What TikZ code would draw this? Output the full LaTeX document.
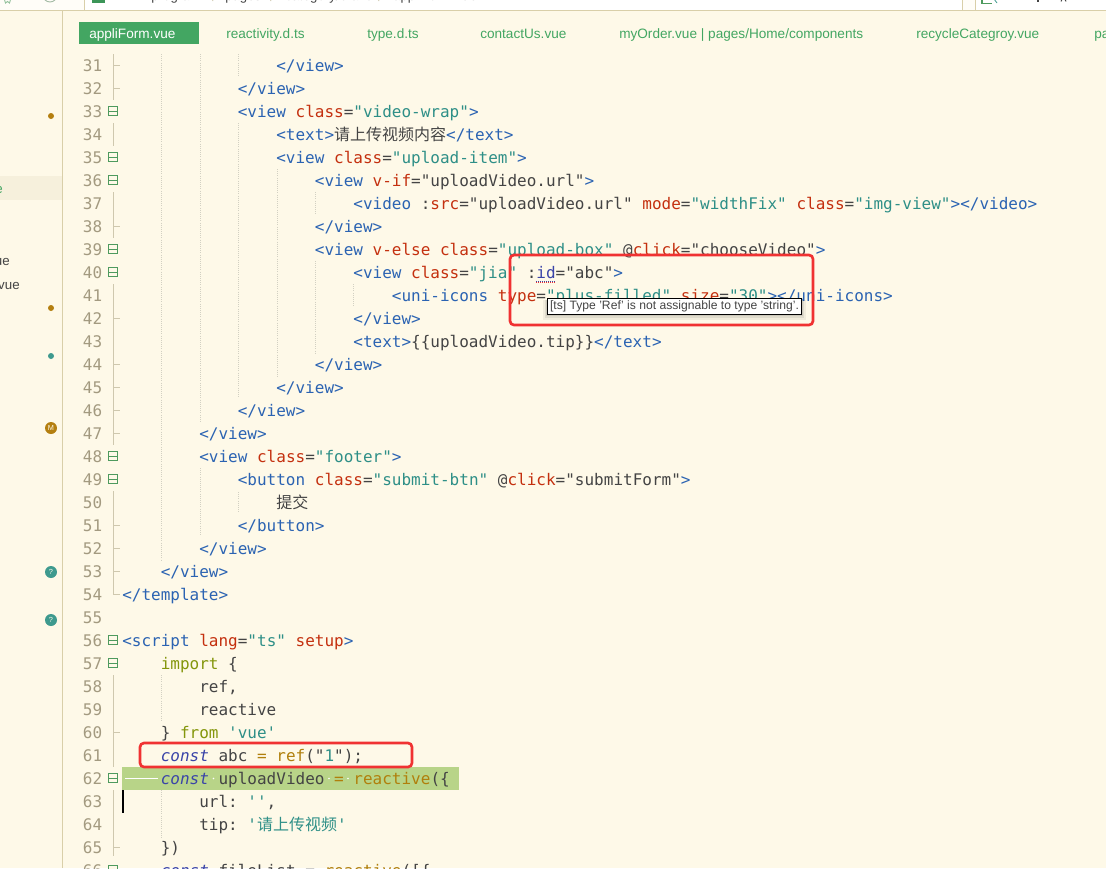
\documentclass[tikz,border=0pt]{standalone}
\usepackage{fontspec}
\setmainfont{Liberation Sans}
\setmonofont{DejaVu Sans Mono}
\newfontfamily\cjk{Noto Sans CJK SC}
\definecolor{bgc}{HTML}{FEF9E8}
\definecolor{topc}{HTML}{FFFDF8}
\definecolor{hlc}{HTML}{F6F0DC}
\definecolor{barc}{HTML}{D9CFA9}
\definecolor{tabc}{HTML}{43A662}
\definecolor{tagc}{HTML}{2B63B2}
\definecolor{attc}{HTML}{C4300F}
\definecolor{strc}{HTML}{2E8F87}
\definecolor{txtc}{HTML}{444444}
\definecolor{kwc}{HTML}{84960C}
\definecolor{conc}{HTML}{3A44A8}
\definecolor{fnc}{HTML}{B07F0C}
\definecolor{numc}{HTML}{A39A80}
\definecolor{gutc}{HTML}{CFC8AE}
\definecolor{foldc}{HTML}{4E9A5E}
\definecolor{guidec}{HTML}{D2D0C2}
\definecolor{redc}{HTML}{F03232}
\definecolor{linec}{HTML}{B8D488}
\definecolor{orangec}{HTML}{B47F10}
\definecolor{tealc}{HTML}{3E9A8E}
\newcommand{\ctag}[1]{\textcolor{tagc}{#1}}
\newcommand{\cattr}[1]{\textcolor{attc}{#1}}
\newcommand{\cstr}[1]{\textcolor{strc}{#1}}
\newcommand{\ckw}[1]{\textcolor{kwc}{#1}}
\newcommand{\cconst}{\textcolor{conc}{\itshape const}}
\newcommand{\cfun}[1]{\textcolor{fnc}{#1}}
\newcommand{\codeline}[3]{%
  \node[codetxt] (C#1) at ({122+#2*9.63},{71+(#1-31)*23}) {#3};}
\newcommand{\tablabel}[2]{\node[tabtxt] (T#1) at (#1,38) {\textcolor{tabc}{#2}};}
\tikzset{
  codetxt/.style={anchor=base west,inner sep=0pt,font=\fontsize{12pt}{14pt}\ttfamily,text=txtc},
  numtxt/.style={anchor=base east,inner sep=0pt,font=\fontsize{12pt}{14pt}\ttfamily,text=numc},
  tabtxt/.style={anchor=base west,inner sep=0pt,font=\fontsize{10.2pt}{12pt}\selectfont},
  crumbtxt/.style={anchor=base west,inner sep=0pt,text=txtc,font=\fontsize{9.9pt}{12pt}\selectfont},
  guide/.style={guidec,line width=0.6pt,densely dotted},
  gut/.style={gutc,line width=0.6pt},
  foldbox/.style={draw=foldc,line width=0.6pt,fill=bgc,minimum size=7pt,inner sep=0pt},
  redbox/.style={draw=redc,line width=2pt,rounded corners=3pt},
  side/.style={anchor=base east,inner sep=0pt,font=\fontsize{10pt}{12pt}\selectfont},
  badge/.style={circle,inner sep=0pt,minimum size=9pt,text=bgc,font=\fontsize{5.5pt}{6pt}\selectfont},
}
\begin{document}
\begin{tikzpicture}[x=0.75pt,y=-0.75pt]
\useasboundingbox (0,0) rectangle (1106,868);
\clip (0,0) rectangle (1106,868);
\fill[bgc] (0,0) rectangle (1106,868);
% top bar
\fill[topc] (0,-2) rectangle (1106,10);
\fill[white] (84,-2) rectangle (962,9.5);
\fill[white] (975,-2) rectangle (1106,9.5);
\draw[barc,line width=1pt] (0,10.2) -- (1106,10.2);
\draw[barc,line width=0.7pt] (84.5,-2) -- (84.5,10) (962.5,-2) -- (962.5,10) (975.5,-2) -- (975.5,10);
\fill[tabc!90!black] (92,-2) rectangle (105,2.5);
\node[crumbtxt] (cr1) at (127,0.5) {miniprogram};
\node[crumbtxt] (cr2) at (225,0.5) {pages};
\node[crumbtxt] (cr3) at (285,0.5) {category/brand};
\node[crumbtxt] (cr4) at (393,0.5) {appliForm.vue};
\draw[gutc,line width=0.6pt] (212,-1) -- (213,1) (270,-1) -- (271,1) (378,-1) -- (379,1);
\draw[gutc!70!tealc,line width=0.7pt] (50,-5) circle (7);
\draw[foldc!60!white,line width=0.7pt] (4,-2) -- (5.5,3) -- (7.5,1.5) -- (9.5,3) -- (11,-2);
\draw[foldc,line width=0.8pt] (982,-2) -- (982,3.5) -- (992,3.5);
\draw[tealc,line width=0.6pt] (994,-1) -- (997,3);
\fill[txtc] (1037,-1) rectangle (1038.5,2);
\draw[txtc,line width=0.7pt] (1061,1.5) arc (180:360:2.5);
% sidebar
\fill[hlc] (0,176) rectangle (62,200);
\draw[barc,line width=0.8pt] (62.5,10) -- (62.5,868);
\node[side,text=tabc] (s1) at (3,193) {vue};
\node[side,text=txtc] (s2) at (10,265) {vue};
\node[side,text=txtc] (s3) at (20,289) {vue};
\fill[orangec] (51,116) circle (3) (51,308) circle (3);
\fill[tealc] (51,356) circle (3);
\node[badge,fill=orangec] (bM) at (51,428) {M};
\node[badge,fill=tealc] (bQ1) at (51,572) {?};
\node[badge,fill=tealc] (bQ2) at (51,620) {?};
% tabs
\fill[tabc] (79,22) rectangle (199,44);
\node[tabtxt,text=white] (tab0) at (89,38) {appliForm.vue};
\tablabel{226}{reactivity.d.ts}
\tablabel{367}{type.d.ts}
\tablabel{480}{contactUs.vue}
\tablabel{619}{myOrder.vue | pages/Home/components}
\tablabel{916}{recycleCategroy.vue}
\tablabel{1094}{pages}
% line numbers
\foreach \n in {31,...,66} \node[numtxt] (N\n) at (102.5,{71+(\n-31)*23}) {\n};
% gutter lines
\draw[gut] (113,54) -- (113,100) (113,123) -- (113,146) (113,192) -- (113,238) (113,284) -- (113,445);
\draw[gut] (113,491) -- (113,594) -- (120,594);
\draw[gut] (113,675) -- (113,767) (113,790) -- (113,856);
\foreach \n in {31,32,38,42,44,45,46,47,51,52,53,60,65}
  \draw[gut] (113,{65+(\n-31)*23}) -- (120,{65+(\n-31)*23});
% indent guides
\draw[guide] (161,54) -- (161,560) (200,54) -- (200,422) (200,468) -- (200,535)
  (238,54) -- (238,77) (238,123) -- (238,397) (238,492) -- (238,513)
  (277,169) -- (277,376) (315,192) -- (315,215) (315,261) -- (315,353)
  (353,284) -- (353,307) (161,675) -- (161,720) (161,790) -- (161,837);
% current line
\fill[linec] (122,767) rectangle (459,790);
\draw[white,line width=0.7pt] (125,778.5) -- (158,778.5);
\foreach \x in {213.5,329,348} \fill[white] (\x,778.5) circle (0.9);
\fill[black] (122,790) rectangle (124,813);
% fold boxes
\foreach \n in {33,35,36,39,40,48,49,56,57,62,66}
  \node[foldbox] (F\n) at (113,{65+(\n-31)*23}) {};
\foreach \n in {33,35,36,39,40,48,49,56,57,62,66}
  \draw[foldc,line width=0.6pt] ([xshift=-2.7]F\n.center) -- ([xshift=2.7]F\n.center);
% code
\codeline{31}{16}{\ctag{</view>}}
\codeline{32}{12}{\ctag{</view>}}
\codeline{33}{12}{\ctag{<view} \cattr{class}=\cstr{"video-wrap"}\ctag{>}}
\codeline{34}{16}{\ctag{<text>}{\cjk 请上传视频内容}\ctag{</text>}}
\codeline{35}{16}{\ctag{<view} \cattr{class}=\cstr{"upload-item"}\ctag{>}}
\codeline{36}{20}{\ctag{<view} \cattr{v-if}="uploadVideo.url"\ctag{>}}
\codeline{37}{24}{\ctag{<video} :\cattr{src}="uploadVideo.url" \cattr{mode}=\cstr{"widthFix"} \cattr{class}=\cstr{"img-view"}\ctag{></video>}}
\codeline{38}{20}{\ctag{</view>}}
\codeline{39}{20}{\ctag{<view} \cattr{v-else} \cattr{class}=\cstr{"upload-box"} @\cattr{click}="chooseVideo"\ctag{>}}
\codeline{40}{24}{\ctag{<view} \cattr{class}=\cstr{"jia"} :\textcolor{conc}{id}="abc"\ctag{>}}
\codeline{41}{28}{\ctag{<uni-icons} \cattr{type}=\cstr{"plus-filled"} \cattr{size}=\cstr{"30"}\ctag{></uni-icons>}}
\codeline{42}{24}{\ctag{</view>}}
\codeline{43}{24}{\ctag{<text>}\{\{uploadVideo.tip\}\}\ctag{</text>}}
\codeline{44}{20}{\ctag{</view>}}
\codeline{45}{16}{\ctag{</view>}}
\codeline{46}{12}{\ctag{</view>}}
\codeline{47}{8}{\ctag{</view>}}
\codeline{48}{8}{\ctag{<view} \cattr{class}=\cstr{"footer"}\ctag{>}}
\codeline{49}{12}{\ctag{<button} \cattr{class}=\cstr{"submit-btn"} @\cattr{click}="submitForm"\ctag{>}}
\codeline{50}{16}{{\cjk 提交}}
\codeline{51}{12}{\ctag{</button>}}
\codeline{52}{8}{\ctag{</view>}}
\codeline{53}{4}{\ctag{</view>}}
\codeline{54}{0}{\ctag{</template>}}
\codeline{56}{0}{\ctag{<script} \cattr{lang}=\cstr{"ts"} \cattr{setup}\ctag{>}}
\codeline{57}{4}{\ckw{import} \{}
\codeline{58}{8}{ref,}
\codeline{59}{8}{reactive}
\codeline{60}{4}{\} \ckw{from} \cstr{'vue'}}
\codeline{61}{4}{\cconst{} abc \cfun{=} \cfun{ref}("\cstr{1}");}
\codeline{62}{4}{\cconst{} uploadVideo \cfun{=} \cfun{reactive}(\{}
\codeline{63}{8}{url: \cstr{''},}
\codeline{64}{8}{tip: \cstr{'{\cjk 请上传视频}'}}
\codeline{65}{4}{\})}
\codeline{66}{4}{\cconst{} fileList = \cfun{reactive}([\{}
% squiggle
\draw[conc,line width=0.5pt,densely dotted] (536,281) -- (555,281);
\draw[redc,line width=0.5pt,densely dotted] (536,282) -- (555,282);
% red boxes
\draw[redbox] (510,255) rectangle (813,325);
\draw[redbox] (140,743) rectangle (412,767);
% tooltip
\fill[black,opacity=0.05] (543,300) rectangle (806,320);
\fill[black,opacity=0.07] (545,300) rectangle (804,318);
\fill[black,opacity=0.08] (546,300) rectangle (803,316);
\node[draw=black,line width=0.6pt,fill=white,inner sep=0pt,minimum width=191pt,minimum height=12pt,text=txtc,font=\fontsize{9.1pt}{10pt}\selectfont] (tip) at (674.5,306) {[ts] Type 'Ref' is not assignable to type 'string'.};
\end{tikzpicture}
\end{document}
